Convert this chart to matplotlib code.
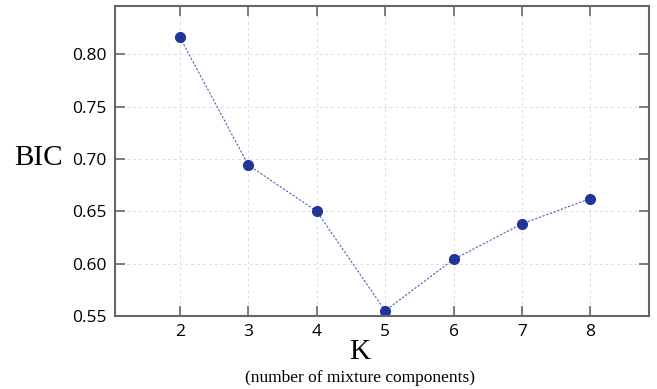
import matplotlib
matplotlib.use('Agg')
import matplotlib.pyplot as plt

k = [2, 3, 4, 5, 6, 7, 8]
bic = [0.816, 0.694, 0.650, 0.555, 0.604, 0.638, 0.662]
yticks = [0.55, 0.60, 0.65, 0.70, 0.75, 0.80]

fig = plt.figure(figsize=(6.57, 3.89), dpi=100)
ax = fig.add_axes([0.175, 0.1877, 0.813, 0.797])

ax.plot(k, bic, linestyle=(0, (2, 1.5)), linewidth=0.8, color='#4f5cb5')
ax.plot(k, bic, 'o', markersize=7, color='#22339a', linestyle='none')

ax.set_xlim(1.05, 8.86)
ax.set_ylim(0.55, 0.846)
ax.set_xticks(k)
ax.set_yticks(yticks)
ax.set_yticklabels(['%.2f' % v for v in yticks])
ax.grid(True, linestyle=(0, (3, 3)), color='#dddddd', linewidth=0.7)

for s in ax.spines.values():
    s.set_color('#666666')
    s.set_linewidth(1.5)
ax.tick_params(direction='in', length=7, width=1.2, color='#666666',
               top=True, right=True, labelsize=12.5, pad=6)
for lab in ax.get_xticklabels() + ax.get_yticklabels():
    lab.set_family('Open Sans')

fig.text(0.058, 0.594, 'BIC', family='Liberation Serif', fontsize=21,
         ha='center', va='center')
fig.text(0.548, 0.095, 'K', family='Liberation Serif', fontsize=21,
         ha='center', va='center')
fig.text(0.548, 0.028, '(number of mixture components)', family='Liberation Serif',
         fontsize=12.5, ha='center', va='center')

fig.savefig('out.png', dpi=100)
